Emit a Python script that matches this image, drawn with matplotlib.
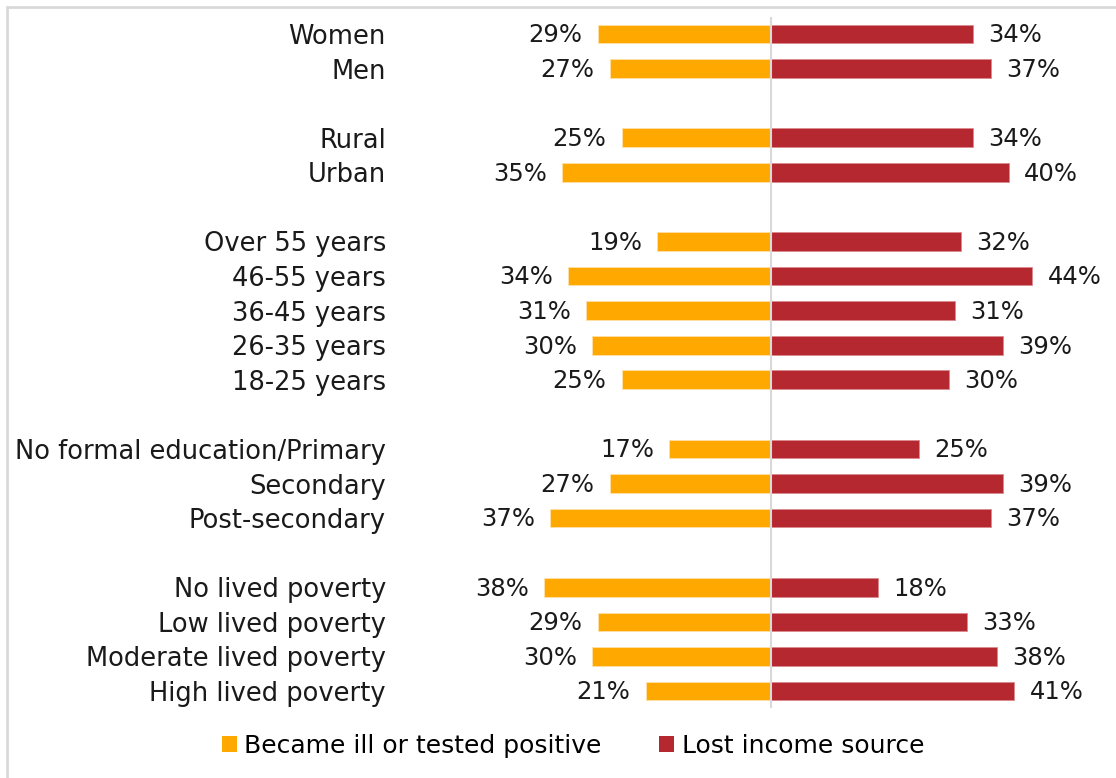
import matplotlib
matplotlib.use("Agg")
import matplotlib.pyplot as plt
from matplotlib.patches import Rectangle, Patch

# Share of respondents by group (%)
categories = [
    "Women", "Men",
    "Rural", "Urban",
    "Over 55 years", "46-55 years", "36-45 years", "26-35 years", "18-25 years",
    "No formal education/Primary", "Secondary", "Post-secondary",
    "No lived poverty", "Low lived poverty", "Moderate lived poverty", "High lived poverty",
]
ill_positive = [29, 27, 25, 35, 19, 34, 31, 30, 25, 17, 27, 37, 38, 29, 30, 21]
lost_income = [34, 37, 34, 40, 32, 44, 31, 39, 30, 25, 39, 37, 18, 33, 38, 41]
group_sizes = [2, 2, 5, 3, 4]

series_names = ["Became ill or tested positive", "Lost income source"]

ORANGE = "#FFA900"
RED = "#B5282F"
FONT = "DejaVu Sans"
FS_LABEL = 18.5
FS_VALUE = 17.5
FS_LEGEND = 18

# slot positions with a blank row between groups
ypos = []
slot = 0
for n in group_sizes:
    ypos.extend(range(slot, slot + n))
    slot += n + 1

fig = plt.figure(figsize=(11.16, 7.78), dpi=100)
W, H = 1116, 778
x0, x1 = 770.5 - 50 * 5.95, 770.5 + 50 * 5.95
y_top, y_bot = 34 - 0.5 * 34.58, 691 + 0.5 * 34.58
ax = fig.add_axes([x0 / W, 1 - y_bot / H, (x1 - x0) / W, (y_bot - y_top) / H])

neg = [-v for v in ill_positive]
ax.barh(ypos, neg, height=0.54, color=ORANGE, edgecolor="#FFE2A8", linewidth=0.6, zorder=2)
ax.barh(ypos, lost_income, height=0.54, color=RED, edgecolor="#D98A8E", linewidth=0.6, zorder=2)

for y, a, b in zip(ypos, ill_positive, lost_income):
    ax.annotate(f"{a}%", xy=(-a, y), xytext=(-11, -1), textcoords="offset points",
                ha="right", va="center", fontsize=FS_VALUE, family=FONT, color="#1a1a1a")
    ax.annotate(f"{b}%", xy=(b, y), xytext=(11, -1), textcoords="offset points",
                ha="left", va="center", fontsize=FS_VALUE, family=FONT, color="#1a1a1a")

ax.axvline(0, color="#D9D9D9", linewidth=1.5, zorder=3)

ax.set_xlim(-50, 50)
ax.set_ylim(19.5, -0.5)
ax.set_xticks([])
ax.set_yticks(ypos)
ax.set_yticklabels(categories, fontsize=FS_LABEL, family=FONT, color="#1a1a1a")
ax.tick_params(axis="y", length=0, pad=(x0 - 386) * 0.72)
for s in ax.spines.values():
    s.set_visible(False)

handles = [Patch(facecolor=ORANGE, edgecolor="none"), Patch(facecolor=RED, edgecolor="none")]
fig.legend(handles, series_names, loc="center", bbox_to_anchor=(573 / W, 1 - 746 / H),
           ncol=2, frameon=False, prop={"family": FONT, "size": FS_LEGEND},
           handlelength=0.6, handleheight=0.6, handletextpad=0.3, columnspacing=2.3)

# outer frame
fig.patches.append(Rectangle((7 / W, -0.1), 1.2, 1 - 7 / H + 0.1, transform=fig.transFigure,
                             fill=False, edgecolor="#D9D9D9", linewidth=2))

fig.savefig("out.png", dpi=100)
